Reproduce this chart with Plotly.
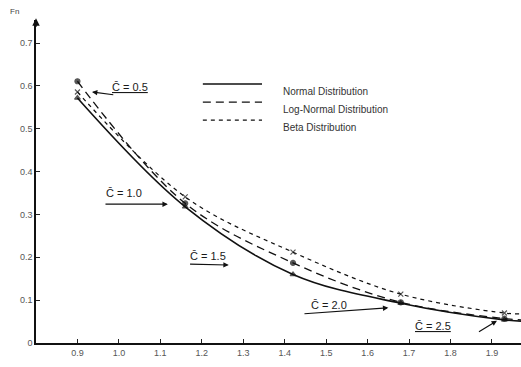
import plotly.graph_objects as go

# C-bar values at which the three distributions were evaluated
c_bar = [0.5, 1.0, 1.5, 2.0, 2.5]
x_pos = [0.90, 1.16, 1.42, 1.68, 1.93]

# F_n for each distribution (last entry is the tail out to the axis end)
x_line = [0.90, 1.16, 1.42, 1.68, 1.93, 1.97]
normal = [0.572, 0.318, 0.160, 0.093, 0.054, 0.051]
lognormal = [0.611, 0.326, 0.187, 0.095, 0.057, 0.054]
beta = [0.586, 0.341, 0.212, 0.114, 0.070, 0.068]

x_ticks = [0.9, 1.0, 1.1, 1.2, 1.3, 1.4, 1.5, 1.6, 1.7, 1.8, 1.9]
x_ticktext = ["0.9", "1.0", "1.1", "1.2", "1.3", "1.4", "1.5", "1.6", "1.7", "1.8", "1.9"]
y_ticks = [0, 0.1, 0.2, 0.3, 0.4, 0.5, 0.6, 0.7]
y_ticktext = ["0", "0.1", "0.2", "0.3", "0.4", "0.5", "0.6", "0.7"]

series_names = ["Normal Distribution", "Log-Normal Distribution", "Beta Distribution"]
series_vals = [normal, lognormal, beta]
series_dash = ["solid", "8px,5px", "4px,4px"]
series_width = [1.6, 1.3, 1.2]
series_symbol = ["triangle-up", "circle", "x-thin-open"]

fig = go.Figure()
n_mark = len(x_pos)
for name, vals, dash, width, sym in zip(series_names, series_vals, series_dash,
                                       series_width, series_symbol):
    sizes = [5] * n_mark + [0] * (len(x_line) - n_mark)
    fig.add_trace(go.Scatter(
        x=x_line, y=vals, mode="lines+markers", name=name,
        line=dict(color="#111", width=width, dash=dash, shape="spline", smoothing=1.0),
        marker=dict(symbol=sym, size=sizes, color="#111", line=dict(color="#111", width=1.2)),
        showlegend=False, hoverinfo="skip",
    ))

# key drawn in paper space: long line samples followed by the names
shapes = []
annotations = []
key_rows = [0.802, 0.746, 0.690]
for name, dash, width, ky in zip(series_names, series_dash, series_width, key_rows):
    shapes.append(dict(
        type="line", xref="paper", yref="paper", x0=0.344, x1=0.466, y0=ky, y1=ky,
        line=dict(color="#111", width=width, dash=dash),
    ))
    annotations.append(dict(
        x=0.505, y=ky, xref="paper", yref="paper", xanchor="left", showarrow=False,
        text=name, font=dict(family="Liberation Sans", size=10, color="#333"),
    ))

# C-bar labels with their pointer arrows
label_pos = [(1.027, 0.597), (1.012, 0.350), (1.215, 0.203), (1.507, 0.089), (1.758, 0.040)]
underline = [True, False, False, False, True]
arrow_tail = [(0.99, 0.579), (0.964, 0.324), (1.168, 0.184), (1.444, 0.068), (1.865, 0.024)]
arrow_head = [(0.935, 0.586), (1.118, 0.324), (1.265, 0.182), (1.650, 0.082), (1.912, 0.052)]

for c, (tx, ty), ul, (ax, ay), (hx, hy) in zip(c_bar, label_pos, underline,
                                                 arrow_tail, arrow_head):
    label = "C\u0304 = %.1f" % c
    if ul:
        label = "<u>" + label + "</u>"
    annotations.append(dict(
        x=tx, y=ty, xref="x", yref="y", showarrow=False, text=label,
        font=dict(family="Liberation Sans", size=11, color="#1a1a1a"),
    ))
    annotations.append(dict(
        x=hx, y=hy, ax=ax, ay=ay, xref="x", yref="y", axref="x", ayref="y",
        text="", showarrow=True, arrowhead=2, arrowsize=0.9, arrowwidth=1.2,
        arrowcolor="#111",
    ))

# arrowhead on top of the ordinate
annotations.append(dict(
    x=0.80, y=0.758, ax=0.80, ay=0.735, xref="x", yref="y", axref="x", ayref="y",
    text="", showarrow=True, arrowhead=2, arrowsize=1, arrowwidth=1.5, arrowcolor="#111",
))
annotations.append(dict(
    x=-0.058, y=1.045, xref="paper", yref="paper", showarrow=False,
    text="Fn", font=dict(family="Liberation Sans", size=8, color="#444"),
))

fig.update_layout(
    width=521, height=367,
    margin=dict(l=36, r=0, t=20, b=24),
    paper_bgcolor="white", plot_bgcolor="white",
    font=dict(family="Liberation Sans", color="#444"),
    annotations=annotations,
    shapes=shapes,
    showlegend=False,
    xaxis=dict(
        range=[0.80, 1.97], tickvals=x_ticks, ticktext=x_ticktext,
        ticks="inside", ticklen=4, tickcolor="#222", showgrid=False, zeroline=False,
        showline=True, linecolor="#111", linewidth=2,
        tickfont=dict(size=9, color="#555"),
    ),
    yaxis=dict(
        range=[0, 0.754], tickvals=y_ticks, ticktext=y_ticktext,
        ticks="inside", ticklen=4, tickcolor="#222", showgrid=False, zeroline=False,
        showline=True, linecolor="#111", linewidth=1.5,
        tickfont=dict(size=9, color="#555"),
    ),
)

fig.write_html("out.html")
